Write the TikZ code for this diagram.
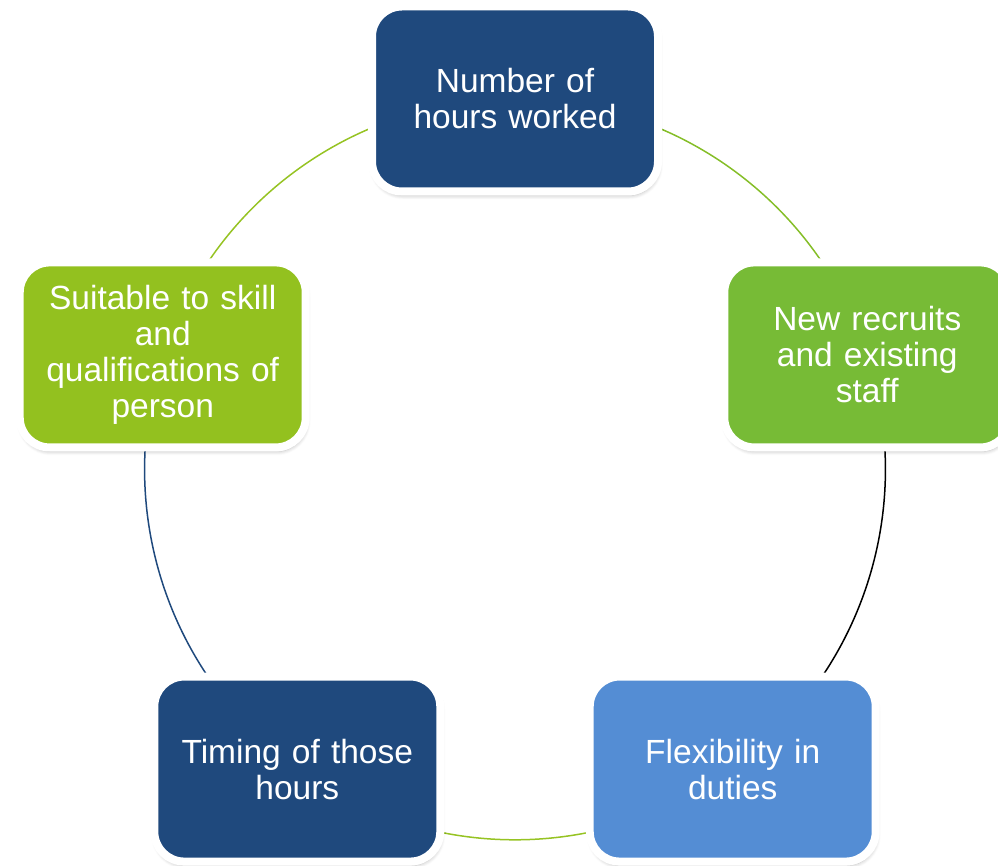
\documentclass[tikz,border=0pt]{standalone}
\usepackage{fontspec}
\setmainfont{Liberation Sans}
\usetikzlibrary{backgrounds,shadows.blur}
\definecolor{dblue}{RGB}{31,73,125}
\definecolor{lblue}{RGB}{84,141,212}
\definecolor{gA}{RGB}{119,187,54}
\definecolor{gB}{RGB}{147,193,31}
\definecolor{arcA}{RGB}{133,190,40}
\definecolor{arcB}{RGB}{150,195,35}
\tikzset{
  cyclebox/.style={draw=white, line width=8pt, rounded corners=30pt,
    minimum width=286pt, minimum height=185pt, text width=266pt, align=center,
    text=white, font=\fontsize{33.5}{36}\selectfont, inner sep=0pt,
    blur shadow={shadow blur steps=6, shadow xshift=1pt, shadow yshift=-4pt, shadow opacity=28, shadow blur radius=4pt}},
  cyclearc/.style={line width=1.5pt}
}
\begin{document}
\begin{tikzpicture}
\useasboundingbox (0pt,0pt) rectangle (998pt,865pt);
\def\R{370.4pt}
\coordinate (C) at (515pt,395.6pt);
\node[cyclebox, fill=dblue] (n1) at ([shift={(90:\R)}]C) {Number of\\hours worked};
\node[cyclebox, fill=gA] (n2) at ([shift={(18:\R)}]C) {New recruits\\and existing\\staff};
\node[cyclebox, fill=lblue] (n3) at ([shift={(-54:\R)}]C) {Flexibility in\\duties};
\node[cyclebox, fill=dblue] (n4) at ([shift={(-126:\R)}]C) {Timing of those\\hours};
\node[cyclebox, fill=gB] (n5) at ([shift={(162:\R)}]C) {Suitable to skill\\and\\qualifications of\\person};
\begin{scope}[on background layer]
\draw[cyclearc, arcA] (n1.center) arc[start angle=90, end angle=18, radius=\R];
\draw[cyclearc, black] (n2.center) arc[start angle=18, end angle=-54, radius=\R];
\draw[cyclearc, arcB] (n3.center) arc[start angle=-54, end angle=-126, radius=\R];
\draw[cyclearc, dblue] (n4.center) arc[start angle=-126, end angle=-198, radius=\R];
\draw[cyclearc, arcB] (n5.center) arc[start angle=162, end angle=90, radius=\R];
\end{scope}
\end{tikzpicture}
\end{document}
